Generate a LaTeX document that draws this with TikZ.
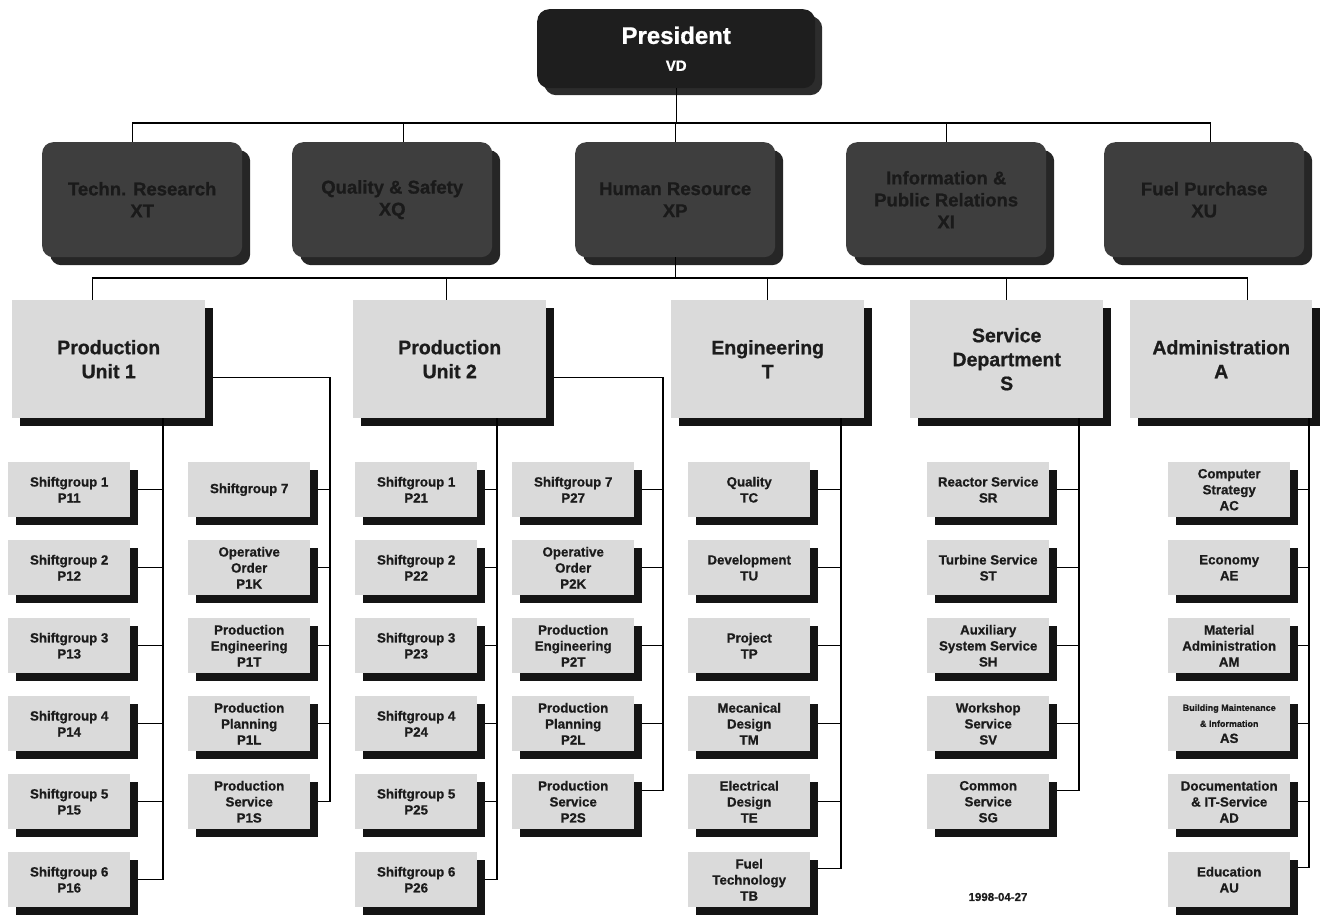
\documentclass[tikz,border=0pt]{standalone}
\usepackage{fontspec}
\setmainfont{Liberation Sans}[BoldFeatures={FakeBold=0.8}]
\usetikzlibrary{shadows}

\definecolor{presfill}{HTML}{1E1E1E}
\definecolor{presshade}{HTML}{2C2C2C}
\definecolor{deptfill}{HTML}{3E3E3E}
\definecolor{deptshade}{HTML}{262626}
\definecolor{depttext}{HTML}{1A1A1A}
\definecolor{unitfill}{HTML}{DADADA}
\definecolor{boxtext}{HTML}{1C1C1C}

% one sub-unit box, top-left corner given
\newcommand\orgbox[4]{\node[subbox, anchor=north west] (#1) at (#2,#3) {#4};}
% horizontal link from a box's shadow edge to its column bus
\newcommand\hook[3]{\draw ([xshift=8pt,yshift=#3pt]#1.east) coordinate (#1h) -- (#1h -| #2);}
\newcommand\smalltxt{\fontsize{9}{11}\selectfont}
\newcommand\normtxt{\fontsize{13.3}{16}\selectfont}

\begin{document}
\begin{tikzpicture}[x=1pt,y=-1pt,
  link/.style={line width=1.3pt, black},
  presbox/.style={rounded corners=12pt, fill=presfill, text=white, align=center,
    minimum width=278pt, minimum height=79pt, inner sep=2pt,
    general shadow={fill=presshade, shadow xshift=7pt, shadow yshift=-7pt}},
  deptbox/.style={rounded corners=11pt, fill=deptfill, text=depttext, align=center,
    minimum width=200pt, minimum height=115pt, inner sep=2pt,
    font=\bfseries\fontsize{18.5}{22}\selectfont,
    general shadow={fill=deptshade, shadow xshift=8pt, shadow yshift=-8pt}},
  unitbox/.style={fill=unitfill, text=boxtext, align=center,
    minimum height=118pt, inner sep=2pt,
    font=\bfseries\fontsize{19.5}{24}\selectfont,
    general shadow={fill=black!92, shadow xshift=8pt, shadow yshift=-8pt}},
  subbox/.style={fill=unitfill, text=boxtext, align=center,
    minimum width=122pt, minimum height=55pt, inner sep=1pt,
    font=\bfseries\normtxt,
    general shadow={fill=black!92, shadow xshift=8pt, shadow yshift=-8pt}}
]
\useasboundingbox (0,0) rectangle (1322,914);

% ---------- top ----------
\node[presbox, anchor=north west] (pres) at (537,9)
  {\bfseries\fontsize{24}{28}\selectfont President\\[15pt]\bfseries\fontsize{15}{18}\selectfont VD};

% ---------- staff departments ----------
\node[deptbox, anchor=north west] (tr) at (42,142)   {Techn. Research\\XT};
\node[deptbox, anchor=north west] (qs) at (292,142)  {Quality \& Safety\\XQ};
\node[deptbox, anchor=north west] (hr) at (575,142)  {Human Resource\\XP};
\node[deptbox, anchor=north west] (ir) at (846,142)  {Information \&\\Public Relations\\XI};
\node[deptbox, anchor=north west] (fp) at (1104,142) {Fuel Purchase\\XU};

\coordinate (bus1) at (675,123);
\foreach \n/\dx in {tr/-10,qs/11,hr/0,ir/0,fp/6}
  \draw[link] (pres.south) -- (pres.south |- bus1) -| ([xshift=\dx pt]\n.north);

% ---------- line units ----------
\node[unitbox, minimum width=193pt, anchor=north west] (pu1) at (12,300)   {Production\\Unit 1};
\node[unitbox, minimum width=193pt, anchor=north west] (pu2) at (353,300)  {Production\\Unit 2};
\node[unitbox, minimum width=193pt, anchor=north west] (eng) at (671,300)  {Engineering\\T};
\node[unitbox, minimum width=193pt, anchor=north west] (srv) at (910,300)  {Service\\Department\\S};
\node[unitbox, minimum width=182pt, anchor=north west] (adm) at (1130,300) {Administration\\A};

\coordinate (bus2) at (675,278);
\foreach \n/\dx in {pu1/-16.5,pu2/-3.5,eng/0,srv/0,adm/26}
  \draw[link] (hr.south) -- (hr.south |- bus2) -| ([xshift=\dx pt]\n.north);

% column buses
\coordinate (b1L) at (163,0);
\coordinate (b1R) at (330,0);
\coordinate (b2L) at (497,0);
\coordinate (b2R) at (663,0);
\coordinate (bE)  at (841,0);
\coordinate (bS)  at (1079,0);
\coordinate (bA)  at (1309,0);

% ---------- Production Unit 1 ----------
\orgbox{p11}{8}{462}{Shiftgroup 1\\P11}
\orgbox{p12}{8}{540}{Shiftgroup 2\\P12}
\orgbox{p13}{8}{618}{Shiftgroup 3\\P13}
\orgbox{p14}{8}{696}{Shiftgroup 4\\P14}
\orgbox{p15}{8}{774}{Shiftgroup 5\\P15}
\orgbox{p16}{8}{852}{Shiftgroup 6\\P16}
\orgbox{p17}{188}{462}{Shiftgroup 7}
\orgbox{p1k}{188}{540}{Operative\\Order\\P1K}
\orgbox{p1t}{188}{618}{Production\\Engineering\\P1T}
\orgbox{p1l}{188}{696}{Production\\Planning\\P1L}
\orgbox{p1s}{188}{774}{Production\\Service\\P1S}

% ---------- Production Unit 2 ----------
\orgbox{p21}{355}{462}{Shiftgroup 1\\P21}
\orgbox{p22}{355}{540}{Shiftgroup 2\\P22}
\orgbox{p23}{355}{618}{Shiftgroup 3\\P23}
\orgbox{p24}{355}{696}{Shiftgroup 4\\P24}
\orgbox{p25}{355}{774}{Shiftgroup 5\\P25}
\orgbox{p26}{355}{852}{Shiftgroup 6\\P26}
\orgbox{p27}{512}{462}{Shiftgroup 7\\P27}
\orgbox{p2k}{512}{540}{Operative\\Order\\P2K}
\orgbox{p2t}{512}{618}{Production\\Engineering\\P2T}
\orgbox{p2l}{512}{696}{Production\\Planning\\P2L}
\orgbox{p2s}{512}{774}{Production\\Service\\P2S}

% ---------- Engineering ----------
\orgbox{tc}{688}{462}{Quality\\TC}
\orgbox{tu}{688}{540}{Development\\TU}
\orgbox{tp}{688}{618}{Project\\TP}
\orgbox{tm}{688}{696}{Mecanical\\Design\\TM}
\orgbox{te}{688}{774}{Electrical\\Design\\TE}
\orgbox{tb}{688}{852}{Fuel\\Technology\\TB}

% ---------- Service Department ----------
\orgbox{sr}{927}{462}{Reactor Service\\SR}
\orgbox{st}{927}{540}{Turbine Service\\ST}
\orgbox{sh}{927}{618}{Auxiliary\\System Service\\SH}
\orgbox{sv}{927}{696}{Workshop\\Service\\SV}
\orgbox{sg}{927}{774}{Common\\Service\\SG}

% ---------- Administration ----------
\orgbox{ac}{1168}{462}{Computer\\Strategy\\AC}
\orgbox{ae}{1168}{540}{Economy\\AE}
\orgbox{am}{1168}{618}{Material\\Administration\\AM}
\orgbox{abm}{1168}{696}{\smalltxt Building Maintenance\\\smalltxt\& Information\\\normtxt AS}
\orgbox{ad}{1168}{774}{Documentation\\\& IT-Service\\AD}
\orgbox{au}{1168}{852}{Education\\AU}

\node[font=\bfseries\fontsize{11.5}{13}\selectfont, text=boxtext] (date) at (998,897) {1998-04-27};

% ---------- links to column buses ----------
\begin{scope}[link]
\foreach \n in {p11,p12,p13,p14,p15,p16} {\hook{\n}{b1L}{0}}
\foreach \n in {p17,p1k,p1t,p1l,p1s} {\hook{\n}{b1R}{0}}
\foreach \n in {p21,p22,p23,p24,p25,p26} {\hook{\n}{b2L}{0}}
\foreach \n in {p27,p2k,p2t,p2l} {\hook{\n}{b2R}{0}}
\hook{p2s}{b2R}{11}
\foreach \n in {tc,tu,tp,tm,te} {\hook{\n}{bE}{0}}
\hook{tb}{bE}{11}
\foreach \n in {sr,st,sh,sv} {\hook{\n}{bS}{0}}
\hook{sg}{bS}{11}
\foreach \n in {ac,ae,am,abm,ad} {\hook{\n}{bA}{0}}
\hook{au}{bA}{12}
\end{scope}

% ---------- column buses ----------
\draw[link] (pu1.south -| b1L) |- (p16h);
\draw[link] ([xshift=8pt,yshift=-18pt]pu1.east) -| (b1R |- p1sh) -- (p1sh);
\draw[link] (pu2.south -| b2L) |- (p26h);
\draw[link] ([xshift=8pt,yshift=-18pt]pu2.east) -| (b2R |- p2sh) -- (p2sh);
\draw[link] (eng.south -| bE) |- (tbh);
\draw[link] (srv.south -| bS) |- (sgh);
\draw[link] (adm.south -| bA) |- (auh);

\end{tikzpicture}
\end{document}
